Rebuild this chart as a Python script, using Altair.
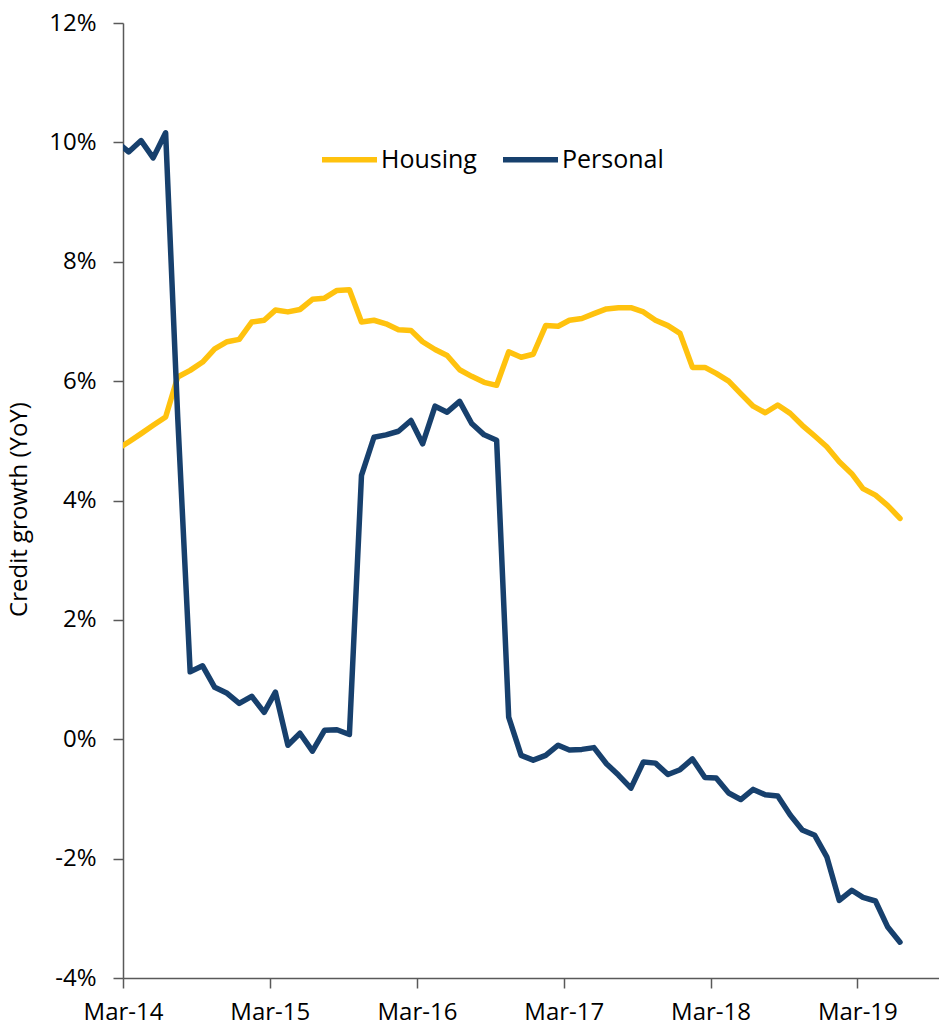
import altair as alt
import pandas as pd

# Monthly observations (mid-month), Feb-2014 .. Jun-2019
months = [
    d.strftime("%Y-%m-15")
    for d in pd.date_range("2014-02-01", "2019-06-01", freq="MS")
]

# Year-on-year credit growth, %
housing = [
    4.86, 4.98, 5.12, 5.26, 5.40, 6.07, 6.18, 6.32, 6.54, 6.66, 6.70, 6.99,
    7.02, 7.19, 7.16, 7.20, 7.37, 7.39, 7.52, 7.53, 6.99, 7.02, 6.96, 6.86,
    6.85, 6.66, 6.53, 6.43, 6.19, 6.08, 5.98, 5.93, 6.49, 6.40, 6.45, 6.93,
    6.92, 7.02, 7.05, 7.13, 7.21, 7.23, 7.23, 7.16, 7.02, 6.93, 6.80, 6.23,
    6.23, 6.13, 6.00, 5.79, 5.58, 5.47, 5.60, 5.46, 5.26, 5.08, 4.90, 4.65,
    4.45, 4.20, 4.09, 3.92, 3.70,
]
personal = [
    10.00, 9.84, 10.03, 9.74, 10.16, 5.40, 1.13, 1.23, 0.87, 0.77, 0.60, 0.72,
    0.45, 0.79, -0.10, 0.10, -0.20, 0.15, 0.16, 0.08, 4.42, 5.06, 5.10, 5.16,
    5.34, 4.95, 5.58, 5.48, 5.66, 5.29, 5.10, 5.01, 0.37, -0.27, -0.35, -0.27,
    -0.10, -0.18, -0.17, -0.14, -0.41, -0.60, -0.82, -0.38, -0.40, -0.59, -0.51, -0.33,
    -0.64, -0.65, -0.90, -1.01, -0.84, -0.93, -0.95, -1.27, -1.52, -1.61, -1.97, -2.70,
    -2.53, -2.65, -2.71, -3.14, -3.40,
]

series_names = ["Housing", "Personal"]
series_colors = ["#FFC20E", "#17406D"]
y_ticks = [-4, -2, 0, 2, 4, 6, 8, 10, 12]
x_tick_years = [2014, 2015, 2016, 2017, 2018, 2019]

df = pd.concat(
    [
        pd.DataFrame({"date": months, "series": "Housing", "value": housing}),
        pd.DataFrame({"date": months, "series": "Personal", "value": personal}),
    ],
    ignore_index=True,
)

FONT = "Open Sans"
AXIS_GREY = "#595959"

x_axis = alt.Axis(
    values=[alt.DateTime(year=y, month=3, date=1, utc=True) for y in x_tick_years],
    labelExpr="utcFormat(datum.value, '%b-%y')",
    grid=False,
    domainColor=AXIS_GREY,
    domainWidth=1.5,
    tickColor=AXIS_GREY,
    tickWidth=1.5,
    tickSize=10,
    labelFont=FONT,
    labelFontSize=24,
    labelColor="#000000",
    labelPadding=12,
    labelFlush=False,
    labelOverlap=False,
    title=None,
)

y_axis = alt.Axis(
    values=y_ticks,
    labelExpr="datum.value + '%'",
    grid=False,
    domainColor=AXIS_GREY,
    domainWidth=1.5,
    tickColor=AXIS_GREY,
    tickWidth=1.5,
    tickSize=10,
    labelFont=FONT,
    labelFontSize=24,
    labelColor="#000000",
    labelPadding=17,
    labelFlush=False,
    labelOverlap=False,
    title="Credit growth (YoY)",
    titleFont=FONT,
    titleFontSize=24,
    titleFontWeight="normal",
    titleColor="#000000",
    titleAngle=270,
    titleAlign="center",
    titleBaseline="middle",
    titleX=-104,
    titleY=486,
)

legend = alt.Legend(
    orient="none",
    legendX=196,
    legendY=106,
    direction="horizontal",
    title=None,
    padding=0,
    symbolType="stroke",
    symbolSize=3025,
    symbolStrokeWidth=5.5,
    labelFont=FONT,
    labelFontSize=25,
    labelColor="#000000",
    labelOffset=1,
    columnPadding=15,
)

chart = (
    alt.Chart(df)
    .mark_line(strokeWidth=5.5, clip=True, strokeJoin="round", strokeCap="round")
    .encode(
        x=alt.X(
            "date:T",
            scale=alt.Scale(
                type="utc",
                domain=[
                    alt.DateTime(year=2014, month=3, date=1, utc=True),
                    alt.DateTime(year=2019, month=9, date=20, utc=True),
                ],
            ),
            axis=x_axis,
        ),
        y=alt.Y(
            "value:Q",
            scale=alt.Scale(domain=[-4, 12], nice=False, zero=False),
            axis=y_axis,
        ),
        color=alt.Color(
            "series:N",
            scale=alt.Scale(domain=series_names, range=series_colors),
            legend=legend,
        ),
    )
    .properties(
        width=816,
        height=955,
        autosize=alt.AutoSizeParams(type="none"),
        padding={"left": 123, "top": 23, "right": 0, "bottom": 54},
        background="#FFFFFF",
    )
    .configure_view(stroke=None)
)

chart.save("out.html", embed_options={"renderer": "svg", "actions": False})
